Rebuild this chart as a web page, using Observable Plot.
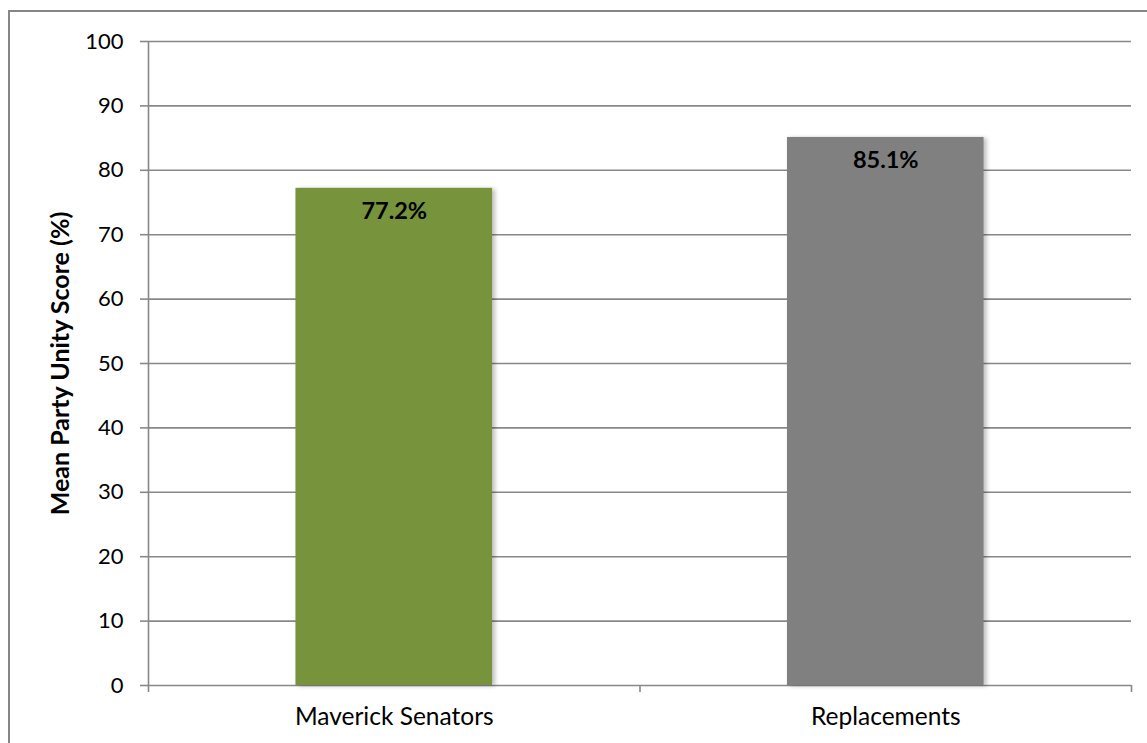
<!DOCTYPE html>
<html>
<head>
<meta charset="utf-8">
<script src="https://cdn.jsdelivr.net/npm/d3@7"></script>
<script src="https://cdn.jsdelivr.net/npm/@observablehq/plot@0.6"></script>
<style>
  html, body { margin: 0; padding: 0; background: #fff; width: 1147px; height: 743px; overflow: hidden; }
  #wrap { position: relative; width: 1147px; height: 743px; }
  #border { position: absolute; left: 8px; top: 10px; width: 1200px; height: 800px; border: 2px solid #868686; box-sizing: border-box; }
  #chart { position: absolute; left: 0; top: 0; }
  g[aria-label="rect"] rect { filter: drop-shadow(3px 1px 2px rgba(0,0,0,0.25)); }
</style>
</head>
<body>
<div id="wrap"><div id="border"></div><div id="chart"></div></div>
<script>
const categories = ["Maverick Senators", "Replacements"];
const values = [77.2, 85.1];
const labels = ["77.2%", "85.1%"];
const colors = ["#77933C", "#808080"];
const yTicks = [0, 10, 20, 30, 40, 50, 60, 70, 80, 90, 100];

const data = categories.map((c, i) => ({category: c, index: i, value: values[i], label: labels[i], color: colors[i]}));
const half = 0.2; // half bar width in category units
const boundaries = d3.range(-0.5, categories.length, 1);

const gridColor = "#888888";
const font = "Lato, 'Open Sans', sans-serif";

const chart = Plot.plot({
  width: 1147,
  height: 743,
  marginLeft: 148,
  marginRight: 16,
  marginTop: 41,
  marginBottom: 58,
  style: {fontFamily: font, fontSize: "22px", color: "#000", background: "transparent"},
  x: {domain: [-0.5, categories.length - 0.5], axis: null},
  y: {domain: [0, 100], axis: null},
  marks: [
    Plot.ruleY(yTicks, {stroke: gridColor, strokeWidth: 1.6}),
    Plot.ruleX([boundaries[0]], {y1: 0, y2: 100, stroke: gridColor, strokeWidth: 1.6}),
    Plot.axisY({ticks: yTicks, tickSize: 8, tickPadding: 17, stroke: gridColor, strokeWidth: 1.6, fontSize: 22, label: null, tickFormat: d => String(d)}),
    Plot.axisX({ticks: boundaries, tickSize: 7, tickFormat: () => "", stroke: gridColor, strokeWidth: 1.6, label: null}),
    Plot.axisX({ticks: data.map(d => d.index), tickSize: 0, tickPadding: 22, tickFormat: i => categories[i], fontSize: 24.5, label: null}),
    Plot.rect(data, {x1: d => d.index - half, x2: d => d.index + half, y1: 0, y2: "value", fill: "color"}),
    Plot.text(data, {x: "index", y: "value", text: "label", dy: 23, fontWeight: "bold", fontSize: 23.5, fill: "#000"}),
    Plot.text(["Mean Party Unity Score (%)"], {frameAnchor: "left", textAnchor: "middle", rotate: -90, dx: -88, text: d => d, fontWeight: "bold", fontSize: 25, fill: "#000"})
  ]
});
document.getElementById("chart").appendChild(chart);
</script>
</body>
</html>
